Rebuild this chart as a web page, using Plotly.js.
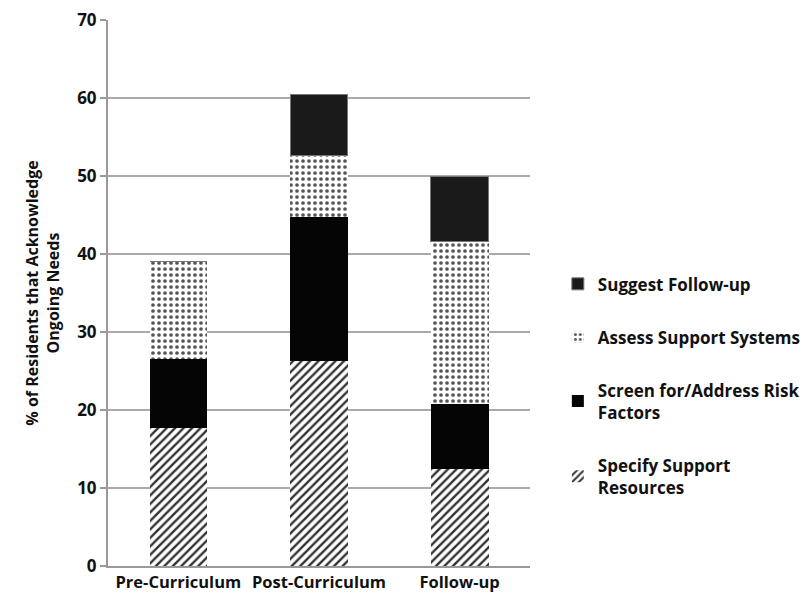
<!DOCTYPE html>
<html>
<head>
<meta charset="utf-8">
<script src="https://cdn.plot.ly/plotly-3.0.1.min.js"></script>
<style>html,body{margin:0;padding:0;background:#fff;}</style>
</head>
<body>
<div id="chart" style="width:802px;height:602px;"></div>
<script>
const categories = ["Pre-Curriculum", "Post-Curriculum", "Follow-up"];
const specifySupport = [17.7, 26.3, 12.5];
const screenRisk = [8.8, 18.5, 8.3];
const assessSupport = [12.5, 7.8, 20.8];
const suggestFollowup = [0, 7.8, 8.4];
const seriesNames = ["Specify Support<br>Resources", "Screen for/Address Risk<br>Factors", "Assess Support Systems", "Suggest Follow-up"];
const yTicks = [0, 10, 20, 30, 40, 50, 60, 70];

const fontFam = "Open Sans, Liberation Sans, sans-serif";
const traces = [
  {y: specifySupport, name: seriesNames[0], legendgroup: "a", legendrank: 4,
   marker: {color: "#ffffff", line: {width: 0}, pattern: {shape: "/", fgcolor: "#333333", bgcolor: "#ffffff", size: 6, solidity: 0.4}}},
  {y: screenRisk, name: seriesNames[1], legendgroup: "b", legendrank: 3,
   marker: {color: "#050505", line: {width: 0}}},
  {y: assessSupport, name: seriesNames[2], legendgroup: "c", legendrank: 2,
   marker: {color: "#ffffff", line: {width: 0}, pattern: {shape: ".", fgcolor: "#555555", bgcolor: "#ffffff", size: 6, solidity: 0.3}}},
  {y: suggestFollowup, name: seriesNames[3], legendgroup: "d", legendrank: 1,
   marker: {color: "#1a1a1a", line: {width: 1, color: "#777777"}}}
].map(t => Object.assign({type: "bar", x: categories, width: 0.41}, t));

const layout = {
  width: 802, height: 602,
  margin: {l: 108, r: 272, t: 20, b: 36, autoexpand: false},
  barmode: "stack",
  paper_bgcolor: "#ffffff", plot_bgcolor: "#ffffff",
  font: {family: fontFam, color: "#000000"},
  xaxis: {
    showgrid: false, showline: true, linecolor: "#999999", linewidth: 2,
    ticks: "", tickfont: {size: 16.5, weight: "bold", color: "#111"},
  },
  yaxis: {
    range: [0, 70], tickvals: yTicks, ticktext: yTicks.map(String),
    showgrid: true, gridcolor: "#aaaaaa", gridwidth: 2,
    showline: true, linecolor: "#999999", linewidth: 2,
    ticks: "outside", ticklen: 6, tickcolor: "#999999", tickwidth: 2,
    tickfont: {size: 17, weight: "bold", color: "#111"},
    zeroline: false,
    title: {text: "% of Residents that Acknowledge<br>Ongoing Needs", font: {size: 16, weight: "bold", color: "#111"}, standoff: 14}
  },
  legend: {
    x: 1.066, xanchor: "left", y: 0.33, yanchor: "middle",
    traceorder: "grouped", tracegroupgap: 28,
    font: {size: 17, weight: "bold", color: "#111"},
    itemwidth: 30
  },
  showlegend: true
};

Plotly.newPlot("chart", traces, layout, {staticPlot: true});
</script>
</body>
</html>
